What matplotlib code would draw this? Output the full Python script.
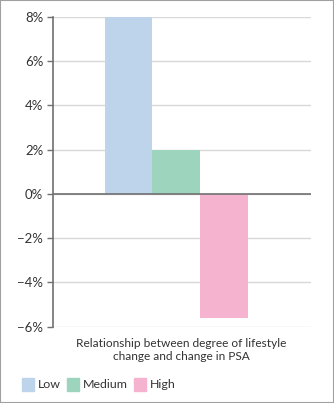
import matplotlib
matplotlib.use("Agg")
import matplotlib.pyplot as plt
from matplotlib.patches import Rectangle
from matplotlib.ticker import FuncFormatter

# PSA change (%) by degree of lifestyle change
categories = ["Low", "Medium", "High"]
psa_change = [8.0, 2.0, -5.6]
colors = ["#bed4ea", "#9cd4bd", "#f6b3d0"]
y_ticks = [-6, -4, -2, 0, 2, 4, 6, 8]
title = "Relationship between degree of lifestyle\nchange and change in PSA"

plt.rcParams["font.family"] = ["Lato", "DejaVu Sans"]

fig = plt.figure(figsize=(3.34, 4.03), dpi=100)
ax = fig.add_axes([53 / 334, 1 - 326.5 / 403, (311 - 53) / 334, (326.5 - 17) / 403])

positions = [i - 1 for i in range(len(categories))]
for pos, val, col in zip(positions, psa_change, colors):
    ax.bar(pos, val, width=1.0, color=col, zorder=2)

ax.set_xlim(-2.58, 2.83)
ax.set_ylim(y_ticks[0], y_ticks[-1])
ax.set_yticks(y_ticks)
ax.yaxis.set_major_formatter(FuncFormatter(lambda v, _: f"{int(v)}%".replace("-", "\u2212")))
ax.set_xticks([])
ax.grid(axis="y", color="#d8d8d8", linewidth=1.0, zorder=0)
ax.axhline(0, color="#707070", linewidth=1.2, zorder=3)
for side in ("top", "right", "bottom"):
    ax.spines[side].set_visible(False)
ax.spines["left"].set_color("#707070")
ax.spines["left"].set_linewidth(1.2)
ax.tick_params(axis="y", length=4, width=1.0, color="#707070", labelsize=9.5,
               labelcolor="#333333", pad=3)

fig.text(181 / 334, 1 - 350 / 403, title, ha="center", va="center",
         fontsize=8.6, color="#333333", linespacing=1.2)

# legend row
legend_x = [22, 67, 134]
for x0, name, col in zip(legend_x, categories, colors):
    fig.patches.append(Rectangle((x0 / 334, 1 - 391 / 403), 12 / 334, 13 / 403,
                                 transform=fig.transFigure, color=col))
    fig.text((x0 + 16) / 334, 1 - 384.5 / 403, name, ha="left", va="center",
             fontsize=8.9, color="#333333")

# thin frame around the figure
fig.patches.append(Rectangle((0, 0), 1, 1, transform=fig.transFigure, fill=False,
                             edgecolor="#a0a0a0", linewidth=1.5))

fig.savefig("out.png", dpi=100)
